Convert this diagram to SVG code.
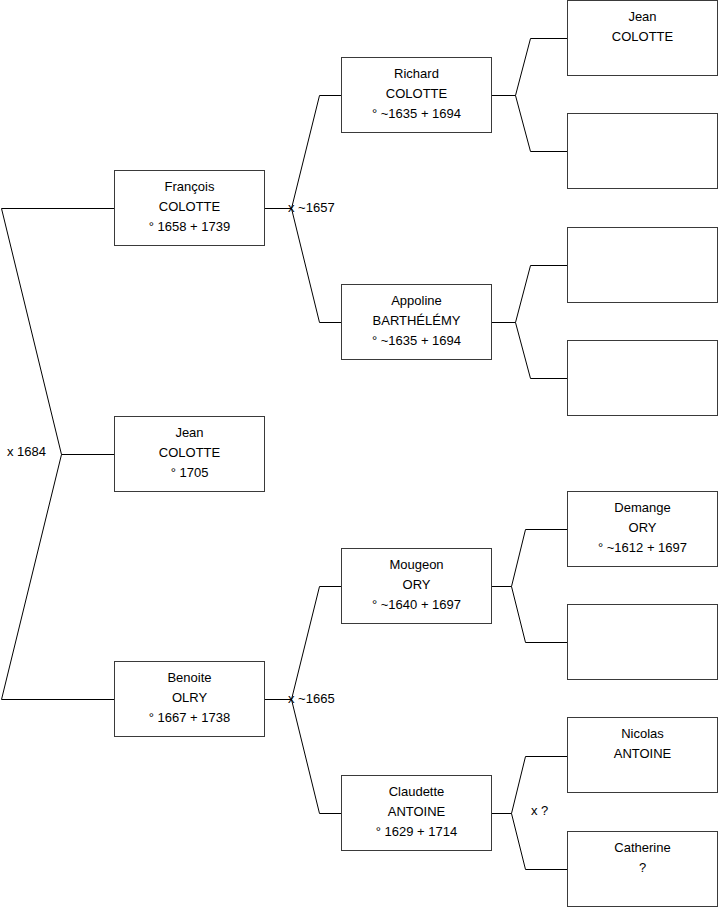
<svg xmlns="http://www.w3.org/2000/svg" width="719" height="908" viewBox="0 0 719 908">
<style>
.b{fill:#fff;stroke:#3a3a3a;stroke-width:1}
.c{fill:none;stroke:#000;stroke-width:1}
text{font-family:"Liberation Sans",Arial,sans-serif;font-size:13px;fill:#000}
.m{text-anchor:middle}
</style>
<rect width="719" height="908" fill="#fff"/>
<g id="connectors">
<polyline class="c" points="114,208.5 1.5,208.5 61.5,454.5 1.5,699.5 114,699.5"/>
<line class="c" x1="61.5" y1="454.5" x2="114" y2="454.5"/>
<polyline class="c" points="265,208.5 291.5,208.5"/>
<polyline class="c" points="341,95.5 319.5,95.5 291.5,208.5 319.5,322.5 341,322.5"/>
<polyline class="c" points="265,699.5 291.5,699.5"/>
<polyline class="c" points="341,586.5 319.5,586.5 291.5,699.5 319.5,813.5 341,813.5"/>
<polyline class="c" points="492,95.5 515.5,95.5"/>
<polyline class="c" points="567,38.5 530.5,38.5 515.5,95.5 530.5,151.5 567,151.5"/>
<polyline class="c" points="492,322.5 515.5,322.5"/>
<polyline class="c" points="567,265.5 530.5,265.5 515.5,322.5 530.5,378.5 567,378.5"/>
<polyline class="c" points="492,586.5 511.5,586.5"/>
<polyline class="c" points="567,529.5 525.5,529.5 511.5,586.5 525.5,642.5 567,642.5"/>
<polyline class="c" points="492,813.5 511.5,813.5"/>
<polyline class="c" points="567,756.5 525.5,756.5 511.5,813.5 525.5,869.5 567,869.5"/>
<text x="7" y="456">x 1684</text>
<text x="288" y="212">x ~1657</text>
<text x="288" y="703">x ~1665</text>
<text x="531" y="815">x ?</text>
</g>
<g id="francois"><rect class="b" x="114.5" y="170.5" width="150" height="75"/><text class="m" x="189.5" y="190.5">François</text><text class="m" x="189.5" y="210.5">COLOTTE</text><text class="m" x="189.5" y="230.5">° 1658 + 1739</text></g>
<g id="jean"><rect class="b" x="114.5" y="416.5" width="150" height="75"/><text class="m" x="189.5" y="437">Jean</text><text class="m" x="189.5" y="457">COLOTTE</text><text class="m" x="189.5" y="477">° 1705</text></g>
<g id="benoite"><rect class="b" x="114.5" y="661.5" width="150" height="75"/><text class="m" x="189.5" y="681.5">Benoite</text><text class="m" x="189.5" y="701.5">OLRY</text><text class="m" x="189.5" y="721.5">° 1667 + 1738</text></g>
<g id="richard"><rect class="b" x="341.5" y="57.5" width="150" height="75"/><text class="m" x="416.5" y="77.5">Richard</text><text class="m" x="416.5" y="97.5">COLOTTE</text><text class="m" x="416.5" y="117.5">° ~1635 + 1694</text></g>
<g id="appoline"><rect class="b" x="341.5" y="284.5" width="150" height="75"/><text class="m" x="416.5" y="304.5">Appoline</text><text class="m" x="416.5" y="324.5">BARTHÉLÉMY</text><text class="m" x="416.5" y="344.5">° ~1635 + 1694</text></g>
<g id="mougeon"><rect class="b" x="341.5" y="548.5" width="150" height="75"/><text class="m" x="416.5" y="568.5">Mougeon</text><text class="m" x="416.5" y="588.5">ORY</text><text class="m" x="416.5" y="608.5">° ~1640 + 1697</text></g>
<g id="claudette"><rect class="b" x="341.5" y="775.5" width="150" height="75"/><text class="m" x="416.5" y="795.5">Claudette</text><text class="m" x="416.5" y="815.5">ANTOINE</text><text class="m" x="416.5" y="835.5">° 1629 + 1714</text></g>
<g id="jean2"><rect class="b" x="567.5" y="0.5" width="150" height="75"/><text class="m" x="642.5" y="20.5">Jean</text><text class="m" x="642.5" y="40.5">COLOTTE</text></g>
<g id="empty1"><rect class="b" x="567.5" y="113.5" width="150" height="75"/></g>
<g id="empty2"><rect class="b" x="567.5" y="227.5" width="150" height="75"/></g>
<g id="empty3"><rect class="b" x="567.5" y="340.5" width="150" height="75"/></g>
<g id="demange"><rect class="b" x="567.5" y="491.5" width="150" height="75"/><text class="m" x="642.5" y="511.5">Demange</text><text class="m" x="642.5" y="531.5">ORY</text><text class="m" x="642.5" y="551.5">° ~1612 + 1697</text></g>
<g id="empty4"><rect class="b" x="567.5" y="604.5" width="150" height="75"/></g>
<g id="nicolas"><rect class="b" x="567.5" y="717.5" width="150" height="75"/><text class="m" x="642.5" y="737.5">Nicolas</text><text class="m" x="642.5" y="757.5">ANTOINE</text></g>
<g id="catherine"><rect class="b" x="567.5" y="831.5" width="150" height="75"/><text class="m" x="642.5" y="851.5">Catherine</text><text class="m" x="642.5" y="871.5">?</text></g>
</svg>
